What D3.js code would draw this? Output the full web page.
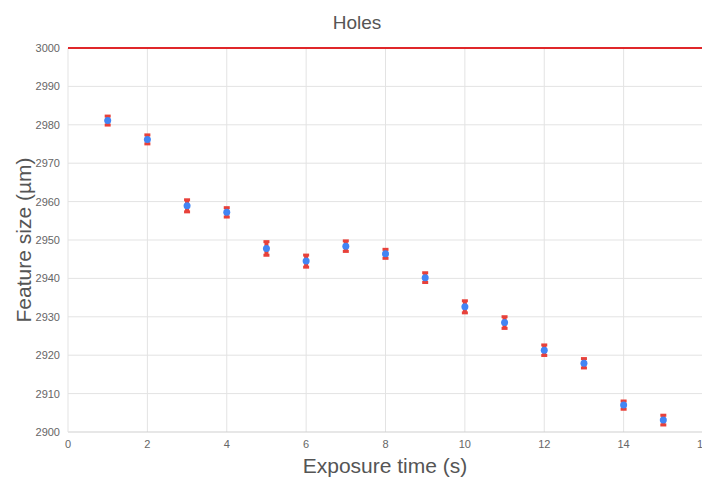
<!DOCTYPE html>
<html>
<head>
<meta charset="utf-8">
<script src="https://cdn.jsdelivr.net/npm/d3@7"></script>
<style>
  body { margin: 0; background: #fff; }
  svg { display: block; font-family: Arial, "Liberation Sans", sans-serif; }
</style>
</head>
<body>
<div id="chart"></div>
<script>
// exposure times and measured feature sizes
var exposure = [1, 2, 3, 4, 5, 6, 7, 8, 9, 10, 11, 12, 13, 14, 15];
var featureSize = [2981.1, 2976.2, 2958.9, 2957.2, 2947.8, 2944.5, 2948.4, 2946.4, 2940.2, 2932.6, 2928.5, 2921.3, 2917.9, 2907.0, 2903.1];
var errorSize = [1.3, 1.3, 1.7, 1.35, 1.9, 1.7, 1.5, 1.3, 1.4, 1.7, 1.65, 1.5, 1.35, 1.2, 1.4];
var targetSize = 3000;
var xTicks = [0, 2, 4, 6, 8, 10, 12, 14, 16];
var yTicks = [2900, 2910, 2920, 2930, 2940, 2950, 2960, 2970, 2980, 2990, 3000];

var width = 702, height = 477;
var margin = { top: 48, right: 0, bottom: 45, left: 68 };

var svg = d3.select("#chart").append("svg")
  .attr("width", width)
  .attr("height", height);

var x = d3.scaleLinear().domain([0, 16]).range([margin.left, 703]);
var y = d3.scaleLinear().domain([2900, 3000]).range([height - margin.bottom, margin.top]);

// gridlines
svg.append("g").selectAll("line.vg")
  .data(xTicks.slice(1))
  .enter().append("line")
  .attr("x1", d => x(d)).attr("x2", d => x(d))
  .attr("y1", y(3000)).attr("y2", y(2900))
  .attr("stroke", "#e3e3e3").attr("stroke-width", 1);

svg.append("g").selectAll("line.hg")
  .data(yTicks.slice(1))
  .enter().append("line")
  .attr("x1", x(0)).attr("x2", width)
  .attr("y1", d => y(d)).attr("y2", d => y(d))
  .attr("stroke", "#e3e3e3").attr("stroke-width", 1);

// axis baselines
svg.append("line")
  .attr("x1", x(0)).attr("x2", width)
  .attr("y1", y(2900)).attr("y2", y(2900))
  .attr("stroke", "#cfcfcf");
svg.append("line")
  .attr("x1", x(0)).attr("x2", x(0))
  .attr("y1", y(3000)).attr("y2", y(2900))
  .attr("stroke", "#e3e3e3");

// tick labels
svg.append("g").selectAll("text")
  .data(yTicks)
  .enter().append("text")
  .attr("x", x(0) - 8)
  .attr("y", d => y(d) + 4)
  .attr("text-anchor", "end")
  .attr("font-size", 11)
  .attr("fill", "#666")
  .text(d => d);

svg.append("g").selectAll("text")
  .data(xTicks)
  .enter().append("text")
  .attr("x", d => x(d))
  .attr("y", y(2900) + 16)
  .attr("text-anchor", "middle")
  .attr("font-size", 11)
  .attr("fill", "#666")
  .text(d => d);

// target line
svg.append("line")
  .attr("x1", x(0)).attr("x2", width)
  .attr("y1", y(targetSize)).attr("y2", y(targetSize))
  .attr("stroke", "#e0272a").attr("stroke-width", 2);

// error bars
var pts = exposure.map(function (d, i) {
  return { t: d, v: featureSize[i], e: errorSize[i] };
});

var bars = svg.append("g").selectAll("g")
  .data(pts)
  .enter().append("g");

bars.append("rect")
  .attr("x", d => x(d.t) - 2)
  .attr("y", d => y(d.v + d.e))
  .attr("width", 4)
  .attr("height", d => y(d.v - d.e) - y(d.v + d.e))
  .attr("fill", "#e8413a");
bars.append("rect")
  .attr("x", d => x(d.t) - 3)
  .attr("y", d => y(d.v + d.e) - 1)
  .attr("width", 6)
  .attr("height", 3)
  .attr("fill", "#e8413a");
bars.append("rect")
  .attr("x", d => x(d.t) - 3)
  .attr("y", d => y(d.v - d.e) - 2)
  .attr("width", 6)
  .attr("height", 3)
  .attr("fill", "#e8413a");

svg.append("g").selectAll("circle")
  .data(pts)
  .enter().append("circle")
  .attr("cx", d => x(d.t))
  .attr("cy", d => y(d.v))
  .attr("r", 3.5)
  .attr("fill", "#4285f4");

// titles
svg.append("text")
  .attr("x", 357).attr("y", 29)
  .attr("text-anchor", "middle")
  .attr("font-size", 19)
  .attr("fill", "#555")
  .text("Holes");

svg.append("text")
  .attr("x", 385).attr("y", 473)
  .attr("text-anchor", "middle")
  .attr("font-size", 21)
  .attr("fill", "#555")
  .text("Exposure time (s)");

svg.append("text")
  .attr("transform", "translate(31," + 240 + ") rotate(-90)")
  .attr("text-anchor", "middle")
  .attr("font-size", 21)
  .attr("fill", "#555")
  .text("Feature size (µm)");
</script>
</body>
</html>
